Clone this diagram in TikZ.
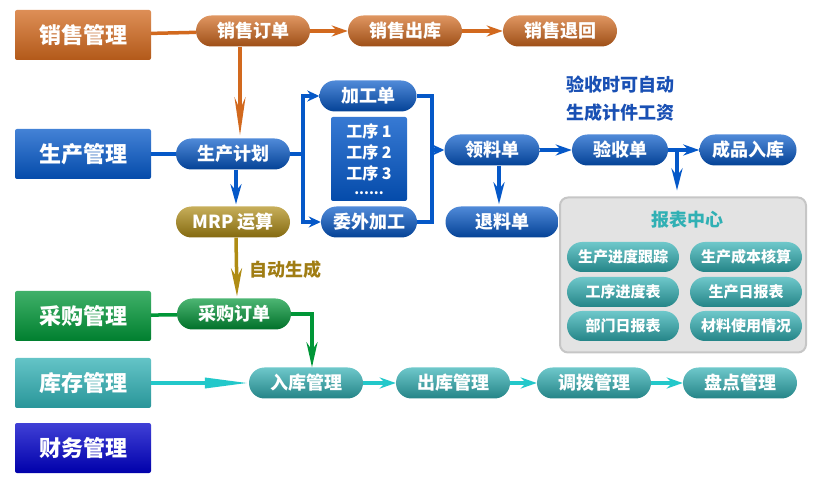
\documentclass[tikz,border=0pt]{standalone}
\usepackage{fontspec}
\newfontfamily\cjk{Noto Sans CJK SC}
\usetikzlibrary{arrows.meta,positioning,calc}

\definecolor{xsorange}{RGB}{210,105,30}
\definecolor{scblue}{RGB}{5,88,200}
\definecolor{cggreen}{RGB}{0,150,55}
\definecolor{kcteal}{RGB}{48,176,180}
\definecolor{cwblue}{RGB}{0,0,200}
\definecolor{mrpgold}{RGB}{175,140,20}
\definecolor{notegold}{RGB}{160,125,20}
\definecolor{noteblue}{RGB}{25,80,180}

\begin{document}
\begin{tikzpicture}[
    x=1pt, y=-1pt,
    mgr/.style={rectangle, rounded corners=2pt, minimum width=136pt, minimum height=50pt, inner sep=0pt,
      text=white, font=\cjk\bfseries\fontsize{22}{24}\selectfont,
      top color=#1!75!white, middle color=#1, bottom color=#1!85!black},
    pill/.style={rectangle, rounded corners=15.5pt, minimum width=114pt, minimum height=31pt, inner sep=0pt,
      text=white, font=\cjk\bfseries\fontsize{18}{20}\selectfont,
      top color=#1!70!white, middle color=#1, bottom color=#1!75!black},
    rpt/.style={pill=kcteal, minimum width=112pt, minimum height=30pt, rounded corners=15pt,
      font=\cjk\bfseries\fontsize{15}{17}\selectfont},
    arrow/.style={-{Stealth[length=#1,width=11pt]}, line width=3.5pt},
    arrow/.default=16pt,
    link/.style={line width=3.5pt}
]
\useasboundingbox (0,0) rectangle (823,481);

% Management boxes
\node[mgr=xsorange] (xsgl) at (83,35) {销售管理};
\node[mgr=scblue] (scgl) at (83,154) {生产管理};
\node[mgr=cggreen] (cggl) at (83,316) {采购管理};
\node[mgr=kcteal] (kcgl) at (83,383) {库存管理};
\node[mgr=cwblue] (cwgl) at (83,448) {财务管理};

% Sales row
\node[pill=xsorange] (xsdd) at (253,31) {销售订单};
\node[pill=xsorange] (xsck) at (405,31) {销售出库};
\node[pill=xsorange] (xsth) at (560,31) {销售退回};

% Production
\node[pill=scblue] (scjh) at (233,154) {生产计划};
\node[pill=mrpgold] (mrp) at (233,222) {MRP 运算};
\node[pill=scblue, minimum width=97pt] (jgd) at (368,96) {加工单};
\node[rectangle, rounded corners=2pt, minimum width=76pt, minimum height=84pt, inner sep=0pt,
  top color=scblue!80!white, bottom color=scblue!85!black, text=white, align=center,
  font=\cjk\bfseries\fontsize{16}{21}\selectfont] (gx) at (369,159) {工序 1\\工序 2\\工序 3\\[-6pt]{\fontsize{14}{14}\selectfont ......}};
\node[pill=scblue, minimum width=96pt] (wwjg) at (369,222) {委外加工};
\node[pill=scblue, minimum width=95pt] (lld) at (492,150) {领料单};
\node[pill=scblue, minimum width=96pt] (ysd) at (620,150) {验收单};
\node[pill=scblue, minimum width=97pt] (cprk) at (748,150) {成品入库};
\node[pill=scblue, minimum width=113pt] (tld) at (502,222) {退料单};
\node[text=noteblue, align=center, font=\cjk\bfseries\fontsize{18}{28}\selectfont] (note) at (620,99) {验收时可自动\\生成计件工资};

% Report center
\node[rectangle, rounded corners=8pt, minimum width=246pt, minimum height=155pt, fill=gray!22,
  draw=gray!45, line width=2pt] (bbzx) at (683,275) {};
\node[text=kcteal, font=\cjk\bfseries\fontsize{18}{20}\selectfont] (bbt) at (687,220) {报表中心};
\node[rpt] (r1) at (623,257) {生产进度跟踪};
\node[rpt] (r2) at (746,257) {生产成本核算};
\node[rpt] (r3) at (623,292) {工序进度表};
\node[rpt] (r4) at (746,292) {生产日报表};
\node[rpt] (r5) at (623,326) {部门日报表};
\node[rpt] (r6) at (746,326) {材料使用情况};

% Purchase and stock
\node[pill=cggreen] (cgdd) at (234,314) {采购订单};
\node[text=notegold, font=\cjk\bfseries\fontsize{18}{20}\selectfont] (zdsc) at (285,270) {自动生成};
\node[pill=kcteal] (rkgl) at (306,383) {入库管理};
\node[pill=kcteal] (ckgl) at (453,383) {出库管理};
\node[pill=kcteal] (dbgl) at (594,383) {调拨管理};
\node[pill=kcteal] (pdgl) at (740,383) {盘点管理};

% Arrows
\draw[link, xsorange] (xsgl) -- (xsdd);
\draw[arrow, xsorange] (xsdd) -- (xsck);
\draw[arrow, xsorange] (xsck) -- (xsth);
\draw[arrow=38pt, xsorange] ([xshift=-13pt]xsdd.south) -- ([xshift=7pt,yshift=3pt]scjh.north);

\draw[link, scblue] (scgl) -- (scjh);
\draw[arrow=20pt, scblue] ([xshift=3pt]scjh.south) -- ([xshift=3pt,yshift=2pt]mrp.north);
\draw[arrow=28pt, mrpgold] ([xshift=3pt]mrp.south) -- ([xshift=3pt,yshift=2pt]cgdd.north);

\coordinate (brl) at (303,154);
\coordinate (brr) at (432,150);
\draw[link, scblue] (scjh.east) -- (brl);
\draw[arrow=12pt, scblue] (brl) |- (jgd.west);
\draw[arrow=12pt, scblue] (brl) |- (wwjg.west);
\draw[link, scblue] (jgd.east) -| (brr);
\draw[link, scblue] (wwjg.east) -| (brr);
\draw[arrow=12pt, scblue] (brr) -- (lld.west);
\draw[arrow, scblue] (lld) -- (ysd);
\draw[arrow, scblue] (ysd) -- (cprk);
\draw[arrow=22pt, scblue] ([xshift=7pt]lld.south) -- ([xshift=-3pt,yshift=2pt]tld.north);
\coordinate (ysb) at (677,150);
\draw[arrow=22pt, scblue, shorten >=6pt] (ysb) -- (ysb |- bbzx.north);

\draw[link, cggreen] (cggl) -- (cgdd);
\draw[arrow=25pt, cggreen] (cgdd.east) -| ([xshift=6pt]rkgl.north);
\draw[-{Triangle[length=44pt,width=10pt]}, line width=3.5pt, kcteal!70!cyan] (kcgl) -- (rkgl);
\draw[arrow, kcteal!70!cyan] (rkgl) -- (ckgl);
\draw[arrow, kcteal!70!cyan] (ckgl) -- (dbgl);
\draw[arrow, kcteal!70!cyan] (dbgl) -- (pdgl);

\end{tikzpicture}
\end{document}
